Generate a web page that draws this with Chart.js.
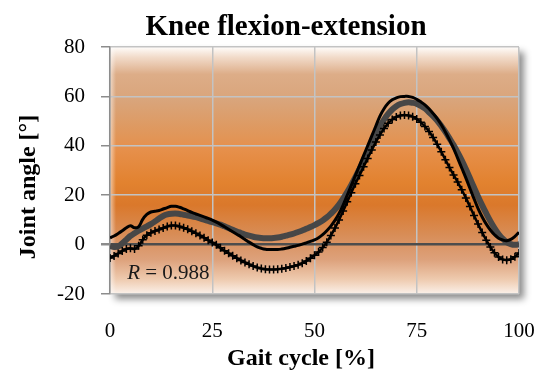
<!DOCTYPE html>
<html>
<head>
<meta charset="utf-8">
<script src="https://cdn.jsdelivr.net/npm/chart.js@4.4.1/dist/chart.umd.min.js"></script>
<style>
  html, body { margin: 0; padding: 0; background: #fff; }
  #wrap { width: 544px; height: 374px; }
</style>
</head>
<body>
<div id="wrap"><canvas id="kneeChart" width="544" height="374"></canvas></div>
<script>
// Gait cycle in percent, one sample per percent
const gaitCycle = [
  0, 1, 2, 3, 4, 5, 6, 7, 8, 9,
  10, 11, 12, 13, 14, 15, 16, 17, 18, 19,
  20, 21, 22, 23, 24, 25, 26, 27, 28, 29,
  30, 31, 32, 33, 34, 35, 36, 37, 38, 39,
  40, 41, 42, 43, 44, 45, 46, 47, 48, 49,
  50, 51, 52, 53, 54, 55, 56, 57, 58, 59,
  60, 61, 62, 63, 64, 65, 66, 67, 68, 69,
  70, 71, 72, 73, 74, 75, 76, 77, 78, 79,
  80, 81, 82, 83, 84, 85, 86, 87, 88, 89,
  90, 91, 92, 93, 94, 95, 96, 97, 98, 99,
  100
];

// Knee angle (deg), black solid curve
const subjectAngle = [
  2.7, 3.5, 4.5, 5.6, 6.8, 7.6, 6.8, 7.2, 10.2, 12.2,
  13.2, 13.5, 13.8, 14.4, 15, 15.5, 15.5, 15.1, 14.5, 13.8,
  13, 12.4, 11.8, 11.2, 10.6, 9.9, 9.1, 8.2, 7.2, 6.2,
  5.2, 4.2, 3.2, 2.1, 1, 0, -0.9, -1.5, -1.9, -2,
  -2, -2, -1.8, -1.5, -1.1, -0.7, -0.3, 0.2, 0.7, 1.3,
  1.9, 2.8, 4, 5.6, 7.5, 9.8, 12.6, 16, 20, 24,
  28, 32, 36, 40, 44, 48, 52, 55, 57.2, 58.6,
  59.4, 59.9, 60, 60, 59.6, 58.8, 57.8, 56.6, 55, 53.1,
  51, 48.5, 45.6, 42.4, 39, 35, 31, 27, 22.8, 18.6,
  14.6, 11.2, 8.3, 5.9, 4, 2.6, 1.9, 1.6, 2.1, 3.3,
  5
];

// Knee angle (deg), wide grey curve
const meanAngle = [
  -0.6, -1, -0.8, 0.5, 2, 3.5, 4.6, 5.6, 6.5, 7.4,
  8.3, 9.4, 10.6, 11.6, 12.2, 12.5, 12.6, 12.4, 12.1, 11.8,
  11.5, 11.1, 10.6, 10.1, 9.6, 9.1, 8.6, 8.1, 7.4, 6.7,
  6, 5.3, 4.7, 4.1, 3.6, 3.2, 2.9, 2.7, 2.6, 2.6,
  2.7, 2.9, 3.2, 3.6, 4, 4.5, 5.1, 5.7, 6.4, 7.1,
  7.9, 8.8, 9.8, 11, 12.5, 14.2, 16.2, 18.6, 21.3, 24.2,
  27.3, 30.6, 34, 37.6, 41.2, 44.6, 47.8, 50.6, 52.9, 54.7,
  56, 56.9, 57.4, 57.6, 57.4, 57, 56.2, 55.1, 53.6, 52,
  50.2, 48, 45.6, 43, 40.3, 37.3, 34.1, 30.6, 26.9, 23.1,
  19.4, 15.9, 12.6, 9.5, 6.7, 4.3, 2.4, 1, 0.2, -0.1,
  0.1
];

// Knee angle (deg), curve with cross markers
const modelAngle = [
  -5.4, -4.6, -3.6, -2.6, -1.8, -1.5, -1.8, -0.5, 2, 3.8,
  4.8, 5.5, 6.1, 6.7, 7.3, 7.7, 7.7, 7.3, 6.8, 6.2,
  5.4, 4.6, 3.7, 2.8, 1.8, 0.9, -0.1, -1.3, -2.5, -3.5,
  -4.5, -5.5, -6.4, -7.2, -8, -8.7, -9.3, -9.7, -10, -10.1,
  -10.1, -10, -9.8, -9.5, -9.1, -8.7, -8.2, -7.5, -6.6, -5.5,
  -4.3, -3, -1.2, 1, 3.7, 6.7, 10, 13.6, 17.3, 21,
  24.6, 28, 31.5, 34.9, 38.3, 41.5, 44.4, 47, 49.1, 50.6,
  51.7, 52.3, 52.5, 52.3, 51.8, 50.8, 49.5, 47.8, 45.8, 43.4,
  40.6, 37.6, 34.4, 31.2, 28.2, 25.3, 22.2, 18.9, 15.4, 11.8,
  8.3, 4.9, 1.8, -1, -3.3, -5, -6, -6.3, -5.9, -4.9,
  -3.4
];

const xTicks = [0, 25, 50, 75, 100];
const yTicks = [-20, 0, 20, 40, 60, 80];

const chartTitle = 'Knee flexion-extension';
const xAxisTitle = 'Gait cycle [%]';
const yAxisTitle = 'Joint angle [°]';
const correlationText = ' = 0.988';
const correlationAt = [4.2, -14];

const serif = 'Liberation Serif, Times New Roman, serif';

function toPoints(values) {
  return gaitCycle.map((x, i) => ({ x: x, y: values[i] }));
}

// orange gradient panel with a soft drop shadow behind the plot area
const plotBackground = {
  id: 'plotBackground',
  beforeDraw(chart) {
    const { ctx, chartArea } = chart;
    const { left, top, right, bottom } = chartArea;
    const g = ctx.createLinearGradient(0, top, 0, bottom);
    g.addColorStop(0.00, '#fffdfb');
    g.addColorStop(0.04, '#f2dccb');
    g.addColorStop(0.11, '#ddad88');
    g.addColorStop(0.22, '#d9a47a');
    g.addColorStop(0.32, '#de9a62');
    g.addColorStop(0.42, '#e68f4a');
    g.addColorStop(0.55, '#e2822f');
    g.addColorStop(0.64, '#da782b');
    g.addColorStop(0.76, '#d88d57');
    g.addColorStop(0.86, '#dda17b');
    g.addColorStop(0.94, '#eecaae');
    g.addColorStop(1.00, '#fbf1ea');
    ctx.save();
    ctx.shadowColor = 'rgba(0, 0, 0, 0.45)';
    ctx.shadowBlur = 7;
    ctx.shadowOffsetX = 5;
    ctx.shadowOffsetY = 5;
    ctx.fillStyle = g;
    ctx.fillRect(left, top, right - left, bottom - top);
    ctx.restore();

    // faint light rim along the left edge
    const rim = ctx.createLinearGradient(left, 0, left + 6, 0);
    rim.addColorStop(0, 'rgba(255,255,255,0.55)');
    rim.addColorStop(1, 'rgba(255,255,255,0)');
    ctx.fillStyle = rim;
    ctx.fillRect(left, top, 6, bottom - top);
  }
};

// chart heading, axis titles and the correlation note
const labels = {
  id: 'labels',
  afterDraw(chart) {
    const { ctx } = chart;
    ctx.save();
    ctx.fillStyle = '#000';
    ctx.font = 'bold 29px ' + serif;
    ctx.textAlign = 'center';
    ctx.textBaseline = 'alphabetic';
    ctx.fillText(chartTitle, chart.width / 2 + 14, 35);

    ctx.font = 'bold 24px ' + serif;
    ctx.fillText(xAxisTitle, 301, 365);

    ctx.save();
    ctx.translate(29, 187);
    ctx.rotate(-Math.PI / 2);
    ctx.textBaseline = 'middle';
    ctx.fillText(yAxisTitle, 0, 0);
    ctx.restore();

    const x = chart.scales.x.getPixelForValue(correlationAt[0]);
    const y = chart.scales.y.getPixelForValue(correlationAt[1]);
    ctx.textAlign = 'left';
    ctx.fillStyle = '#1a1a1a';
    ctx.font = 'italic 21px ' + serif;
    ctx.fillText('R', x, y);
    const w = ctx.measureText('R').width;
    ctx.font = '21px ' + serif;
    ctx.fillText(correlationText, x + w, y);
    ctx.restore();
  }
};

const ctx = document.getElementById('kneeChart').getContext('2d');
new Chart(ctx, {
  type: 'line',
  data: {
    datasets: [
      {
        label: 'Subject',
        data: toPoints(subjectAngle),
        borderColor: '#000',
        borderWidth: 3,
        pointRadius: 0,
        tension: 0.4
      },
      {
        label: 'Model',
        data: toPoints(modelAngle),
        borderColor: '#000',
        borderWidth: 2.5,
        pointStyle: 'cross',
        pointRadius: 4,
        pointBorderWidth: 1.5,
        pointBorderColor: '#000',
        tension: 0.4
      },
      {
        label: 'Mean',
        data: toPoints(meanAngle),
        borderColor: '#474747',
        borderWidth: 6,
        pointRadius: 0,
        tension: 0.4
      }
    ]
  },
  options: {
    responsive: false,
    animation: false,
    devicePixelRatio: 1,
    layout: { padding: { left: 0, right: 25, top: 47, bottom: 0 } },
    plugins: {
      legend: { display: false },
      tooltip: { enabled: false },
      title: { display: false }
    },
    scales: {
      x: {
        type: 'linear',
        min: 0,
        max: 100,
        afterBuildTicks: scale => { scale.ticks = xTicks.map(v => ({ value: v })); },
        afterFit: scale => {
          scale.height = 80;
          // keep the label gap from widening the side margins
          scale.paddingLeft = 0;
          scale.paddingRight = 0;
        },
        grid: { color: '#c3c3c3', lineWidth: 1.5, drawTicks: false },
        border: { display: false },
        ticks: {
          font: { family: serif, size: 21 },
          color: '#000',
          padding: 25,
          maxRotation: 0
        }
      },
      y: {
        min: -20,
        max: 80,
        afterBuildTicks: scale => { scale.ticks = yTicks.map(v => ({ value: v })); },
        afterFit: scale => { scale.width = 110; },
        grid: {
          color: c => (c.tick && c.tick.value === 0 ? '#4d4d4d' : '#c3c3c3'),
          lineWidth: c => (c.tick && c.tick.value === 0 ? 2.5 : 1.5),
          tickColor: '#8c8c8c',
          tickLength: 9
        },
        border: { color: '#8c8c8c', width: 1.5 },
        ticks: {
          font: { family: serif, size: 21 },
          color: '#000',
          padding: 16
        }
      }
    }
  },
  plugins: [plotBackground, labels]
});
</script>
</body>
</html>
